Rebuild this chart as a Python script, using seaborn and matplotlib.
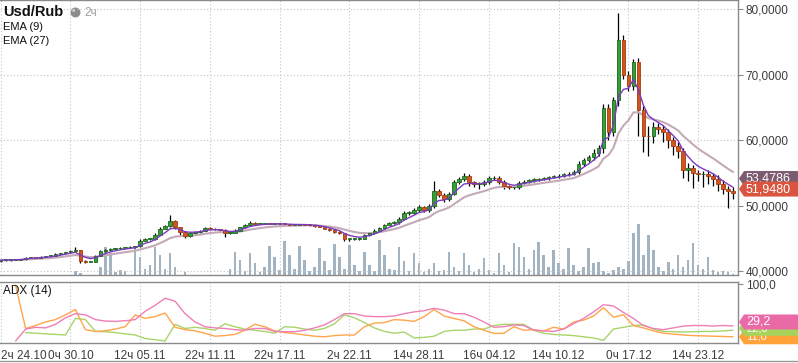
import numpy as np
import pandas as pd
import matplotlib
matplotlib.use("Agg")
import matplotlib.pyplot as plt
from matplotlib.patches import Polygon
from matplotlib.lines import Line2D
from matplotlib.transforms import IdentityTransform
import seaborn as sns

# Usd/Rub candles (one value per candle)
closes = [
    41.7, 41.75, 41.8, 41.8, 41.85, 42.1, 42.15, 42.1, 42.2, 42.3,
    42.35, 42.6, 42.75, 42.9, 43.05, 43.2, 41.6, 41.5, 41.5, 42.4,
    43.1, 43.3, 43.4, 43.5, 43.6, 43.65, 43.7, 43.8, 44.7, 44.9,
    44.9, 45.6, 46.5, 46.9, 47.7, 46.7, 46.0, 45.4, 45.8, 46.0,
    46.2, 46.6, 46.5, 46.4, 46.3, 45.9, 45.9, 46.2, 46.7, 47.0,
    47.4, 47.3, 47.3, 47.35, 47.3, 47.3, 47.25, 47.2, 47.1, 47.1,
    47.15, 47.1, 47.05, 46.9, 46.8, 46.5, 46.3, 46.0, 45.8, 44.9,
    44.9, 44.95, 45.0, 45.5, 45.8, 46.2, 46.6, 47.1, 47.4, 47.5,
    48.0, 48.9, 48.95, 49.3, 49.8, 49.4, 50.0, 52.3, 51.7, 51.0,
    51.8, 53.6, 54.1, 54.6, 53.6, 53.3, 53.3, 53.6, 54.2, 54.3,
    53.7, 53.0, 52.8, 52.8, 53.5, 53.7, 53.9, 54.0, 54.1, 54.2,
    54.4, 54.5, 54.6, 54.8, 54.9, 55.1, 56.4, 57.0, 57.4, 58.1,
    58.9, 65.0, 61.2, 66.1, 75.3, 70.0, 68.3, 72.0, 64.6, 60.7,
    60.6, 62.0, 61.8, 61.2, 60.0, 59.2, 58.3, 55.4, 55.7, 55.0,
    54.8, 54.8, 54.6, 54.1, 53.3, 52.6, 52.3, 51.948,
]
first_open = 41.6

# wick length above / below the body
wick_up = [
    0.1, 0.1, 0.15, 0.1, 0.1, 0.15, 0.1, 0.1, 0.15, 0.1,
    0.1, 0.15, 0.1, 0.1, 0.15, 0.5, 0.1, 0.1, 0.1, 0.15,
    0.2, 0.1, 0.1, 0.1, 0.15, 0.1, 0.1, 0.1, 0.2, 0.2,
    0.1, 0.2, 0.2, 0.2, 0.9, 0.2, 0.1, 0.1, 0.2, 0.1,
    0.1, 0.2, 0.1, 0.1, 0.1, 0.1, 0.1, 0.2, 0.1, 0.2,
    0.3, 0.1, 0.1, 0.1, 0.1, 0.1, 0.1, 0.1, 0.1, 0.1,
    0.1, 0.1, 0.1, 0.1, 0.1, 0.1, 0.1, 0.1, 0.1, 0.1,
    0.1, 0.1, 0.1, 0.2, 0.2, 0.2, 0.2, 0.2, 0.2, 0.2,
    0.3, 0.3, 0.2, 0.3, 0.4, 0.2, 0.3, 1.5, 0.3, 0.2,
    0.3, 0.4, 0.3, 0.4, 0.3, 0.2, 0.3, 0.3, 0.4, 0.3,
    0.2, 0.2, 0.2, 0.2, 0.3, 0.2, 0.2, 0.2, 0.2, 0.2,
    0.2, 0.2, 0.2, 0.2, 0.3, 0.3, 0.4, 0.3, 0.4, 0.5,
    0.4, 0.6, 0.5, 0.5, 4.1, 0.8, 0.6, 0.4, 0.5, 0.6,
    1.5, 0.8, 0.6, 0.6, 0.5, 0.5, 0.6, 0.5, 0.8, 0.5,
    0.5, 0.5, 0.6, 0.4, 0.6, 0.6, 0.5, 0.6,
]
wick_dn = [
    0.1, 0.15, 0.1, 0.1, 0.1, 0.1, 0.15, 0.1, 0.1, 0.1,
    0.1, 0.1, 0.1, 0.15, 0.1, 0.1, 0.4, 0.2, 0.15, 0.1,
    0.1, 0.1, 0.15, 0.1, 0.1, 0.1, 0.1, 0.1, 0.1, 0.1,
    0.1, 0.1, 0.1, 0.1, 0.2, 0.3, 0.4, 0.3, 0.1, 0.1,
    0.1, 0.1, 0.1, 0.1, 0.2, 0.6, 0.2, 0.1, 0.1, 0.1,
    0.1, 0.1, 0.1, 0.1, 0.1, 0.1, 0.1, 0.1, 0.1, 0.1,
    0.1, 0.1, 0.1, 0.1, 0.1, 0.1, 0.1, 0.1, 0.1, 0.3,
    0.2, 0.1, 0.1, 0.1, 0.1, 0.1, 0.1, 0.1, 0.1, 0.1,
    0.2, 0.2, 0.3, 0.2, 0.2, 0.4, 0.3, 0.3, 0.3, 0.4,
    0.3, 0.2, 0.3, 0.3, 0.5, 0.4, 0.7, 0.3, 0.2, 0.3,
    0.4, 0.5, 0.3, 0.3, 0.2, 0.2, 0.2, 0.2, 0.2, 0.2,
    0.2, 0.2, 0.2, 0.2, 0.2, 0.2, 0.3, 0.3, 0.3, 0.4,
    0.5, 0.8, 1.2, 0.5, 0.8, 0.6, 0.8, 0.6, 4.0, 2.5,
    3.0, 1.0, 0.8, 1.5, 1.2, 1.5, 1.0, 1.2, 1.6, 2.3,
    1.0, 2.0, 1.2, 1.0, 1.0, 0.8, 2.6, 0.9,
]

# volume bars (arbitrary units)
volume = [
    0, 0, 0, 0, 0, 0, 0, 0, 0, 0,
    0, 0, 0, 0, 0, 4, 2, 0, 0, 0,
    8, 28, 22, 3, 5, 4, 0, 28, 18, 6,
    10, 28, 20, 6, 22, 8, 0, 3, 0, 0,
    0, 0, 0, 0, 0, 0, 6, 23, 15, 4,
    22, 12, 3, 8, 29, 18, 5, 34, 20, 6,
    29, 15, 4, 8, 27, 14, 5, 31, 18, 6,
    30, 10, 4, 23, 10, 4, 35, 20, 6, 5,
    28, 14, 4, 22, 12, 3, 6, 12, 4, 5,
    23, 8, 4, 22, 10, 3, 6, 17, 5, 2,
    22, 10, 3, 32, 28, 18, 6, 25, 33, 20,
    8, 25, 12, 6, 27, 10, 4, 8, 27, 12,
    13, 4, 2, 5, 8, 6, 14, 42, 51, 20,
    40, 25, 8, 4, 13, 6, 20, 8, 15, 32,
    10, 6, 18, 5, 3, 4, 3, 1,
]

# moving averages (spans tuned to this candle spacing)
ema_fast_span = 5
ema_slow_span = 14
ema_slow_last = 53.4786

# ADX (14) panel, one value every second candle
adx_line = [
    4, 24, 27, 26, 32, 43, 50, 48, 40, 37.5,
    37, 38, 40, 54, 64, 76, 71, 50, 36, 28,
    26, 25, 23, 22, 25, 25, 20, 19.6, 19.6, 22,
    26, 31, 40, 50, 50, 46, 45, 45, 46, 50,
    53, 55, 59, 56, 50, 50, 44, 36, 27, 28,
    31, 30, 22, 21, 20, 24, 33, 42, 53, 65,
    63, 52, 42, 30, 25, 23, 26, 29, 30, 30,
    29, 30, 29.2,
]
plus_di = [
    98, 25, 30, 36, 40, 48, 57, 23, 20, 21,
    24, 28, 48, 42, 45, 51, 27, 23, 21, 17,
    12, 13, 15, 22, 32, 28, 21, 18, 16.5, 14,
    12, 11, 13, 14, 14, 28, 34, 35, 40, 39,
    37, 45, 57, 46, 42, 38, 28, 22, 16.8, 16.8,
    28, 22, 23, 21, 27, 24, 36, 39, 46, 60,
    44, 48, 30, 26, 21, 17, 15.5, 14, 13, 12.5,
    12, 11.5, 11,
]
minus_di = [
    np.nan, 18, 17, 16, 15, 14, 42, 40, 20, 19.6,
    18, 16, 14, 8, 6, 4, 32, 25, 27, 25,
    22, 33, 28, 24, 22, 20, 17, 28, 27, 24,
    22, 25, 33, 48, 43, 35, 26, 20, 17, 19,
    9, 10, 12, 20, 22, 22, 24, 24, 30, 32,
    32, 32, 22, 17, 15, 14, 13, 11, 9, 5,
    24, 27, 30, 31, 24, 20, 19.6, 19, 19.6, 20,
    20, 21, 22,
]

tick_pos = [0, 14, 28, 42, 56, 70, 84, 98, 112, 126, 140]
tick_labels = ["2ч 24.10", "0ч 30.10", "12ч 05.11", "22ч 11.11", "22ч 17.11",
               "2ч 22.11", "14ч 28.11", "16ч 04.12", "14ч 10.12", "0ч 17.12",
               "14ч 23.12"]
price_ticks = [40, 50, 60, 70, 80]

# ---- prepare frame
df = pd.DataFrame({"close": closes})
df["open"] = [first_open] + closes[:-1]
df["high"] = df[["open", "close"]].max(axis=1) + np.array(wick_up)
df["low"] = df[["open", "close"]].min(axis=1) - np.array(wick_dn)
df["idx"] = np.arange(len(df))
df["ema_fast"] = df["close"].ewm(span=ema_fast_span, adjust=False).mean()
df["ema_slow"] = df["close"].ewm(span=ema_slow_span, adjust=False).mean()
adx_x = np.arange(3, len(df), 2)

sns.set_style("white")
plt.rcParams["font.family"] = ["Liberation Sans", "DejaVu Sans"]

W, H = 798, 363
fig = plt.figure(figsize=(W / 100, H / 100), dpi=100)
fig.patch.set_facecolor("white")
ax = fig.add_axes([0, 1 - 275 / H, 738 / W, 275 / H])
ax_adx = fig.add_axes([0, 1 - 343.3 / H, 738 / W, 61.6 / H], sharex=ax)

grid_kw = dict(color="#c4c4c4", linestyle=(0, (1, 2)), linewidth=0.8)
spine_col = "#8a8a8a"

# volume on a twin axis behind the candles
ax_vol = ax.twinx()
ax_vol.bar(df["idx"], volume, width=0.5, color="#a2b3c1", linewidth=0)
ax_vol.set_ylim(0, 275)
ax_vol.axis("off")
ax.set_zorder(ax_vol.get_zorder() + 1)
ax.patch.set_visible(False)

# candles
up = df["close"] >= df["open"]
body_lo = df[["open", "close"]].min(axis=1)
body_h = (df["close"] - df["open"]).abs().clip(lower=0.12)
ax.vlines(df["idx"], df["low"], df["high"], color="black", linewidth=0.9, zorder=2)
ax.bar(df["idx"][up], body_h[up], bottom=body_lo[up], width=0.72,
       color="#35a035", edgecolor="#1c661c", linewidth=0.6, zorder=3)
ax.bar(df["idx"][~up], body_h[~up], bottom=body_lo[~up], width=0.72,
       color="#d0551f", edgecolor="#a63c10", linewidth=0.6, zorder=3)

sns.lineplot(x=df["idx"], y=df["ema_slow"], ax=ax, color="#c4aab8", linewidth=1.5, zorder=2.5)
sns.lineplot(x=df["idx"], y=df["ema_fast"], ax=ax, color="#7a3bbf", linewidth=1.0, zorder=4)

ax.set_xlim(-0.14, 148.0)
ax.set_ylim(39.44, 81.42)
ax.set_xlabel("")
ax.set_ylabel("")
ax.yaxis.tick_right()
ax.set_yticks(price_ticks)
ax.set_yticklabels([f"{v:.4f}".replace(".", ",") for v in price_ticks])
ax.set_xticks(tick_pos)
ax.tick_params(axis="x", length=0, labelbottom=False)
ax.tick_params(axis="y", direction="out", length=3.5, color=spine_col,
               labelcolor="#3c3c3c", labelsize=8.5, pad=2)
ax.grid(True, **grid_kw)

# ADX panel
sns.lineplot(x=adx_x, y=minus_di, ax=ax_adx, color="#a8d46a", linewidth=1.0)
sns.lineplot(x=adx_x, y=plus_di, ax=ax_adx, color="#ffa54c", linewidth=1.0)
sns.lineplot(x=adx_x, y=adx_line, ax=ax_adx, color="#ef7fb6", linewidth=1.0)
ax_adx.set_ylim(0, 103.9)
ax_adx.set_xlabel("")
ax_adx.set_ylabel("")
ax_adx.yaxis.tick_right()
ax_adx.set_yticks([100])
ax_adx.set_yticklabels(["100,0"])
ax_adx.set_xticks(tick_pos)
ax_adx.set_xticklabels(tick_labels)
ax_adx.get_xticklabels()[0].set_ha("left")
ax_adx.tick_params(axis="x", direction="out", length=3.5, color=spine_col,
                   labelcolor="#3c3c3c", labelsize=8.5, pad=1)
ax_adx.tick_params(axis="y", direction="out", length=3.5, color=spine_col,
                   labelcolor="#3c3c3c", labelsize=8.5, pad=2)
ax_adx.grid(True, axis="x", **grid_kw)

for a in (ax, ax_adx):
    a.spines["left"].set_visible(False)
    for s in ("top", "right", "bottom"):
        a.spines[s].set_color(spine_col)
        a.spines[s].set_linewidth(1.0)

fig.add_artist(Line2D([0, 1], [1 - 361 / H] * 2, transform=fig.transFigure,
                      color="#9a9a9a", linewidth=1.0))


def flag(axis, value, color, label, dy, z, size=9):
    right = axis.transAxes.transform((1, 0))[0]
    yc = axis.transData.transform((0, value))[1] + dy
    h = 7.5
    pts = [(right + 1, yc), (right + 6, yc + h), (W, yc + h), (W, yc - h), (right + 6, yc - h)]
    fig.add_artist(Polygon(pts, closed=True, transform=IdentityTransform(),
                           facecolor=color, edgecolor="none", zorder=z))
    fig.text((right + 8) / W, yc / H, label, color="white", fontsize=size,
             va="center", ha="left", zorder=z + 0.5)


flag(ax, ema_slow_last, "#7d5b70", f"{ema_slow_last:.4f}".replace(".", ","), 4.5, 10)
flag(ax, closes[-1], "#d9553f", f"{closes[-1]:.4f}".replace(".", ","), 4, 11)
flag(ax_adx, plus_di[-1], "#ffa338", f"{plus_di[-1]:.1f}".replace(".", ","), 0, 10, 8)
flag(ax_adx, minus_di[-1], "#a6d35c", f"{minus_di[-1]:.1f}".replace(".", ","), 2, 11, 8)
flag(ax_adx, adx_line[-1], "#ea6aa8", f"{adx_line[-1]:.1f}".replace(".", ","), 4, 12)

# headers
fig.text(3 / W, 1 - 12.5 / H, "Usd/Rub", fontsize=10.5, fontweight="bold",
         color="#111111", va="center")
icon = fig.add_axes([70 / W, 1 - 18 / H, 11 / W, 11 / H])
icon.pie([78, 22], colors=["#8c8c8c", "#dcdcdc"], startangle=90, counterclock=False,
         radius=1.0, wedgeprops=dict(edgecolor="#8c8c8c", linewidth=0.8))
icon.set_aspect("equal")
icon.axis("off")
fig.text(84 / W, 1 - 12.5 / H, "2ч", fontsize=8.5, color="#a0a0a0", va="center")
fig.text(3 / W, 1 - 26.5 / H, "EMA (9)", fontsize=8, color="#111111", va="center")
fig.text(3 / W, 1 - 41 / H, "EMA (27)", fontsize=8, color="#111111", va="center")
fig.text(3 / W, 1 - 291 / H, "ADX (14)", fontsize=8.5, color="#111111", va="center")

fig.savefig("out.png", dpi=100)
